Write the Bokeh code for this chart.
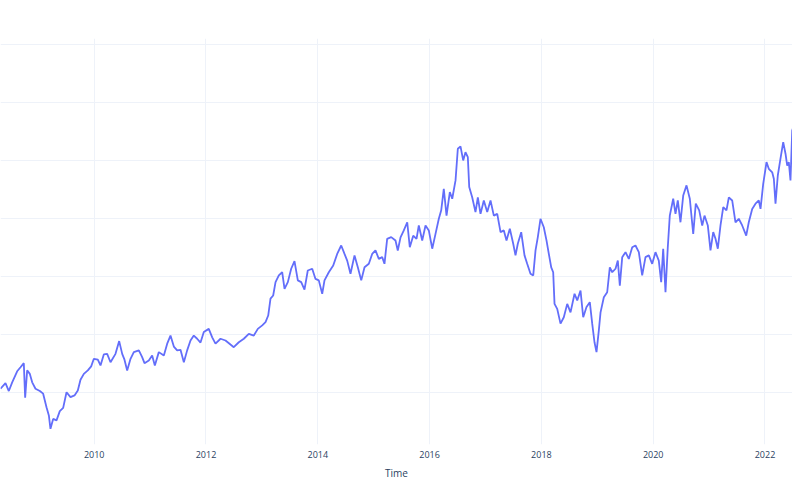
from bokeh.plotting import figure
from bokeh.models import FixedTicker, ColumnDataSource, Range1d
from bokeh.embed import file_html
from bokeh.resources import INLINE

# Decimal years and values
years = [
    2008.324, 2008.413, 2008.473, 2008.533, 2008.622, 2008.682, 2008.741, 2008.765, 2008.801, 2008.849,
    2008.891, 2008.950, 2009.028, 2009.087, 2009.147, 2009.189, 2009.218, 2009.266, 2009.326, 2009.385,
    2009.445, 2009.505, 2009.576, 2009.648, 2009.707, 2009.755, 2009.815, 2009.886, 2009.946, 2009.994,
    2010.065, 2010.113, 2010.172, 2010.232, 2010.292, 2010.381, 2010.447, 2010.501, 2010.542, 2010.590,
    2010.650, 2010.709, 2010.799, 2010.858, 2010.900, 2010.977, 2011.037, 2011.085, 2011.156, 2011.246,
    2011.306, 2011.365, 2011.425, 2011.484, 2011.544, 2011.604, 2011.663, 2011.723, 2011.782, 2011.842,
    2011.902, 2011.961, 2012.050, 2012.111, 2012.170, 2012.260, 2012.349, 2012.438, 2012.497, 2012.587,
    2012.677, 2012.766, 2012.855, 2012.927, 2013.006, 2013.065, 2013.113, 2013.154, 2013.202, 2013.244,
    2013.303, 2013.363, 2013.405, 2013.464, 2013.524, 2013.583, 2013.643, 2013.703, 2013.762, 2013.821,
    2013.900, 2013.959, 2014.018, 2014.079, 2014.120, 2014.197, 2014.276, 2014.347, 2014.419, 2014.478,
    2014.526, 2014.585, 2014.657, 2014.716, 2014.777, 2014.836, 2014.913, 2014.973, 2015.032, 2015.092,
    2015.152, 2015.193, 2015.241, 2015.313, 2015.390, 2015.431, 2015.480, 2015.539, 2015.600, 2015.646,
    2015.707, 2015.766, 2015.807, 2015.868, 2015.927, 2015.986, 2016.047, 2016.106, 2016.165, 2016.208,
    2016.254, 2016.303, 2016.362, 2016.405, 2016.464, 2016.505, 2016.553, 2016.601, 2016.642, 2016.684,
    2016.709, 2016.762, 2016.821, 2016.863, 2016.911, 2016.970, 2017.031, 2017.090, 2017.149, 2017.210,
    2017.269, 2017.328, 2017.376, 2017.435, 2017.496, 2017.537, 2017.578, 2017.639, 2017.698, 2017.746,
    2017.805, 2017.854, 2017.895, 2017.936, 2017.984, 2018.043, 2018.092, 2018.133, 2018.176, 2018.211,
    2018.235, 2018.283, 2018.342, 2018.401, 2018.462, 2018.521, 2018.593, 2018.641, 2018.700, 2018.748,
    2018.807, 2018.866, 2018.909, 2018.950, 2018.986, 2019.027, 2019.058, 2019.117, 2019.177, 2019.224,
    2019.267, 2019.326, 2019.367, 2019.403, 2019.446, 2019.505, 2019.564, 2019.625, 2019.683, 2019.743,
    2019.803, 2019.862, 2019.922, 2019.982, 2020.041, 2020.100, 2020.143, 2020.179, 2020.220, 2020.261,
    2020.297, 2020.358, 2020.399, 2020.440, 2020.488, 2020.537, 2020.596, 2020.655, 2020.716, 2020.762,
    2020.823, 2020.877, 2020.918, 2020.977, 2021.025, 2021.074, 2021.115, 2021.156, 2021.204, 2021.253,
    2021.311, 2021.353, 2021.413, 2021.472, 2021.531, 2021.592, 2021.664, 2021.710, 2021.771, 2021.830,
    2021.889, 2021.920, 2021.968, 2022.027, 2022.068, 2022.129, 2022.158, 2022.188, 2022.229, 2022.277,
    2022.326, 2022.367, 2022.397, 2022.426, 2022.456, 2022.487, 2022.515, 2022.546, 2022.587, 2022.635,
]
values = [
    21.4, 23.3, 20.6, 23.6, 27.4, 28.8, 30.2, 18.3, 27.7, 26.5,
    23.6, 21.4, 20.6, 19.7, 15.0, 12.2, 7.6, 11.0, 10.5, 13.7,
    14.8, 20.2, 18.5, 19.1, 20.8, 24.5, 26.5, 27.7, 29.1, 31.7,
    31.4, 29.4, 33.2, 33.4, 30.5, 33.4, 37.8, 33.4, 31.4, 27.7,
    31.7, 34.0, 34.6, 32.3, 30.2, 31.1, 32.8, 29.4, 34.0, 32.8,
    36.9, 39.7, 35.9, 34.6, 34.8, 30.5, 34.6, 38.0, 39.7, 38.6,
    37.3, 40.9, 42.0, 39.1, 36.9, 38.6, 38.0, 36.6, 35.7, 37.4,
    38.6, 40.3, 39.7, 42.0, 43.2, 44.3, 46.6, 52.4, 53.5, 58.1,
    60.4, 61.5, 55.8, 58.1, 62.7, 65.3, 58.7, 58.1, 55.5, 62.1,
    62.7, 59.2, 58.7, 54.1, 58.7, 61.5, 63.8, 67.8, 70.7, 67.8,
    65.5, 61.0, 67.3, 63.2, 58.7, 63.2, 64.4, 67.8, 69.0, 66.1,
    66.7, 64.4, 73.0, 73.6, 72.4, 69.0, 73.5, 75.9, 78.7, 70.1,
    74.1, 73.0, 77.6, 72.4, 77.6, 75.9, 69.6, 74.7, 79.9, 82.8,
    90.2, 81.0, 89.1, 86.8, 93.1, 104.0, 104.8, 100.0, 102.8, 101.1,
    90.8, 87.3, 82.2, 87.3, 81.6, 86.2, 82.2, 86.2, 81.0, 81.6,
    75.3, 75.9, 72.4, 76.5, 71.3, 67.3, 71.3, 75.3, 67.3, 64.4,
    61.0, 60.4, 69.0, 73.6, 79.9, 77.0, 72.4, 67.8, 63.2, 61.5,
    50.6, 48.9, 43.8, 46.0, 50.6, 47.7, 54.1, 51.8, 55.2, 46.0,
    49.5, 51.2, 43.8, 37.4, 34.0, 41.4, 47.7, 52.9, 54.6, 63.2,
    61.5, 62.7, 65.5, 56.9, 66.7, 68.4, 66.1, 70.1, 70.7, 68.4,
    60.4, 66.7, 67.3, 64.4, 68.4, 65.5, 58.1, 69.6, 54.6, 70.1,
    81.0, 86.8, 81.6, 86.2, 78.7, 87.9, 91.4, 86.8, 74.7, 85.1,
    82.8, 77.6, 81.0, 77.6, 69.0, 75.3, 73.0, 69.6, 77.6, 83.9,
    82.8, 87.3, 86.2, 78.7, 79.9, 77.6, 74.1, 78.7, 83.3, 85.1,
    86.2, 83.3, 91.9, 99.4, 97.1, 95.9, 93.7, 85.1, 94.8, 100.6,
    106.3, 102.3, 98.2, 99.4, 93.1, 110.3, 112.0, 108.0, 113.2, 116.0,
]
x_ticks = [2010, 2012, 2014, 2016, 2018, 2020, 2022]
y_ticks = [20, 40, 60, 80, 100, 120, 140]
x_label = "Time"

src = ColumnDataSource(data=dict(t=years, v=values))

p = figure(width=792, height=484, output_backend="svg", toolbar_location=None,
           x_range=Range1d(2008.324, 2022.492), y_range=Range1d(2.2, 141.96),
           min_border_left=0, min_border_right=0, min_border_top=38, min_border_bottom=40)

p.line("t", "v", source=src, line_color="#636efa", line_width=1.8)

p.background_fill_color = "white"
p.border_fill_color = "white"
p.outline_line_color = None

p.yaxis.visible = False
p.ygrid.ticker = FixedTicker(ticks=y_ticks)
p.ygrid.grid_line_color = "#EEF2F9"
p.ygrid.grid_line_width = 1

p.xaxis.ticker = FixedTicker(ticks=x_ticks)
p.xgrid.grid_line_color = "#EEF2F9"
p.xgrid.grid_line_width = 1
p.xaxis.axis_line_color = None
p.xaxis.major_tick_line_color = None
p.xaxis.minor_tick_line_color = None
p.xaxis.major_tick_out = 0
p.xaxis.major_tick_in = 0
p.xaxis.major_label_standoff = 6
p.xaxis.major_label_text_font = "Open Sans"
p.xaxis.major_label_text_font_size = "9px"
p.xaxis.major_label_text_color = "#2a3f5f"
p.xaxis.axis_label = x_label
p.xaxis.axis_label_text_font = "Open Sans"
p.xaxis.axis_label_text_font_size = "10px"
p.xaxis.axis_label_text_font_style = "normal"
p.xaxis.axis_label_text_color = "#2a3f5f"
p.xaxis.axis_label_standoff = 5

open("out.html", "w").write(file_html(p, INLINE))
